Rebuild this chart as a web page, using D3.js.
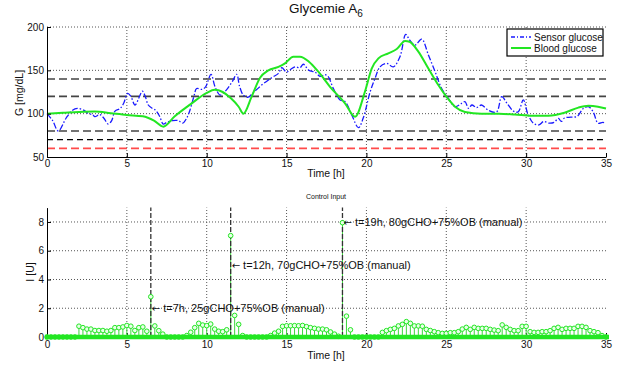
<!DOCTYPE html>
<html>
<head>
<meta charset="utf-8">
<script src="https://cdn.jsdelivr.net/npm/d3@7"></script>
<style>
  body { margin: 0; background: #fff; }
  text { font-family: "Liberation Sans", Arial, sans-serif; fill: #111; }
</style>
</head>
<body>
<div id="main"></div>
<script>

// sensor glucose (blue dash-dot)
var sensorT = [0,0.35,0.71,1.2,1.6,1.9,2.3,2.6,2.85,3.0,3.3,3.55,3.84,4.05,4.26,4.58,4.8,5.05,5.25,5.51,5.75,5.97,6.15,6.34,6.6,6.8,7.05,7.28,7.5,7.85,8.22,8.5,8.75,8.95,9.2,9.37,9.7,9.93,10.27,10.52,10.83,11.05,11.3,11.6,11.88,12.05,12.29,12.6,12.9,13.44,14.07,14.49,14.7,15.0,15.25,15.53,15.84,16.05,16.4,16.78,17.1,17.41,17.6,17.93,18.35,18.66,19.08,19.5,19.8,20.23,20.54,20.85,21.27,21.68,22.1,22.46,22.7,23.04,23.46,23.88,24.3,24.71,25.13,25.55,25.97,26.17,26.4,26.6,26.9,27.2,27.63,28.15,28.47,28.8,29.2,29.5,29.82,30.1,30.45,30.8,31.1,31.45,31.75,32.02,32.2,32.4,32.8,33.2,33.58,33.9,34.2,34.5,34.8,35]
var sensorG = [100,92,80,95,104,106,104,100,99,96.5,99,95,88,92,103,106,112,123.5,120,110,118,126,120,110,106,104,97,88,90,92,92,89,95,104,120,129,128,131,145.4,131,121.5,124,129,137,145.4,132,121.5,119,124,133,141.5,146.5,153,148,151,154,153,157,150,148,143,145,143,129,115.8,114,98.5,83.8,95,125,140.8,154,158,154,165.7,191.5,185,179,186,167.7,148.4,129,117.7,108,112,113.8,106,110,107,110,104,102,119.6,112,103,102,115.8,100,88.9,87,91,89,90,94.6,91,95,96,97,106,108,102,89,90,89]

// blood glucose (green)
var bloodT = [0,1,2,3,4,5,6,6.7,7.28,8,9,10,10.5,11,11.5,12.0,12.3,12.8,13.34,13.86,14.49,14.9,15.42,15.84,16.4,16.99,17.72,18.66,19.29,19.9,20.33,20.75,21.37,21.9,22.42,22.7,23.25,23.88,24.5,25.03,25.55,26.17,27.2,28.3,29.3,30.35,31.4,32.4,33.27,33.9,34.5,35]
var bloodG = [100,101,102,102.5,100.5,98.5,97,92,85,97,111,124,127.5,125,118,108,100,119,141.5,150,154,158,165.7,165.7,160,148.4,131,112,96.5,125,152,163.8,169.6,174.6,183.8,183,171.5,152,133,119,108,102,100,100,99,97.6,97.6,101,107,109,108,106]

// insulin every 15 min, t = 0 .. 35 h
var insulin = [
  0,0,0,0,0,0,0,0,
  .75,.65,.55,.55,.45,.45,.45,.4,
  .45,.65,.65,.7,.8,.75,.45,.65,
  .7,.4,2.8,.77,.44,.2,0,0,
  0,0,0,.1,.33,.65,.95,.83,
  .79,.9,.55,.4,.37,.5,7.05,1.5,
  .88,.1,0,0,0,0,0,0,
  .1,.27,.4,.74,.78,.78,.79,.78,
  .8,.72,.65,.6,.55,.55,.5,.35,
  .2,.05,7.95,1.45,.5,0,0,0,
  0,0,0,0,.32,.44,.53,.6,
  .77,.88,1.07,.95,.77,.77,.75,.53,
  .45,.37,.3,.25,.25,.3,.3,.37,
  .55,.67,.53,.67,.6,.6,.6,.53,
  .48,.44,.84,.67,.53,.44,.44,.74,
  .74,.37,.32,.32,.37,.37,.44,.6,
  .67,.53,.6,.6,.6,.74,.74,.67,
  .44,.37,.3,.1,0]
var insulinStep = 0.25

// glucose thresholds
var limits = [140, 120, 80, 70, 60]
var limitKind = ["grey", "grey", "grey", "black", "red"]

// boluses
var bolusT = [6.5, 11.5, 18.5]
var bolusY = [2, 5, 8]
var bolusText = ["t=7h, 25gCHO+75%OB (manual)", "t=12h, 70gCHO+75%OB (manual)", "t=19h, 80gCHO+75%OB (manual)"]

var xTicks = [0,5,10,15,20,25,30,35]
var gTicks = [50,100,150,200]
var iTicks = [0,2,4,6,8]

var W = 626, H = 371
var left = 47, right = 606

var svg = d3.select("#main")
	.append("svg")
	.attr("width", W)
	.attr("height", H)

var x = d3.scaleLinear().domain([0, 35]).range([left, right])
var yG = d3.scaleLinear().domain([50, 200]).range([157, 27])
var yI = d3.scaleLinear().domain([0, 9]).range([337, 207.6])

var green = "#22e622"

// ---------- top panel
var topG = svg.append("g")

topG.selectAll(".vgrid")
	.data(xTicks.slice(1, -1))
	.enter().append("line")
	.attr("x1", x).attr("x2", x)
	.attr("y1", yG(50)).attr("y2", yG(200))
	.attr("stroke", "#555").attr("stroke-dasharray", "1,2")

topG.selectAll(".hgrid")
	.data(gTicks.slice(1))
	.enter().append("line")
	.attr("x1", left).attr("x2", right)
	.attr("y1", yG).attr("y2", yG)
	.attr("stroke", "#555").attr("stroke-dasharray", "1,2")

topG.selectAll(".limit")
	.data(limits)
	.enter().append("line")
	.attr("x1", left).attr("x2", right)
	.attr("y1", yG).attr("y2", yG)
	.attr("stroke", function(d, i) { return limitKind[i] == "red" ? "#ff4a4a" : (limitKind[i] == "black" ? "#000" : "#444") })
	.attr("stroke-width", function(d, i) { return limitKind[i] == "black" ? 1.3 : 1.6 })
	.attr("stroke-dasharray", function(d, i) { return limitKind[i] == "black" ? "6,4" : "8,4" })

var sensorLine = d3.line()
	.x(function(d, i) { return x(sensorT[i]) })
	.y(function(d) { return yG(d) })
	.curve(d3.curveCatmullRom)

topG.append("path")
	.attr("d", sensorLine(sensorG))
	.attr("fill", "none")
	.attr("stroke", "#1a1aff")
	.attr("stroke-width", 1.3)
	.attr("stroke-dasharray", "6,2,1.5,2")

var bloodLine = d3.line()
	.x(function(d, i) { return x(bloodT[i]) })
	.y(function(d) { return yG(d) })
	.curve(d3.curveMonotoneX)

topG.append("path")
	.attr("d", bloodLine(bloodG))
	.attr("fill", "none")
	.attr("stroke", green)
	.attr("stroke-width", 2)

topG.append("g")
	.attr("transform", "translate(0," + yG(50) + ")")
	.call(d3.axisBottom(x).tickValues(xTicks).tickSizeInner(-4).tickSizeOuter(0).tickPadding(3))
topG.append("g")
	.attr("transform", "translate(" + left + ",0)")
	.call(d3.axisLeft(yG).tickValues(gTicks).tickSizeInner(-4).tickSizeOuter(0).tickPadding(3))

topG.append("text")
	.attr("x", 326).attr("y", 177)
	.attr("text-anchor", "middle")
	.style("font-size", "10.5px")
	.text("Time [h]")

topG.append("text")
	.attr("transform", "translate(23,93) rotate(-90)")
	.attr("text-anchor", "middle")
	.style("font-size", "10.5px")
	.text("G [mg/dL]")

var title = topG.append("text")
	.attr("x", 326).attr("y", 13)
	.attr("text-anchor", "middle")
	.style("font-size", "13.5px")
title.append("tspan").text("Glycemie A")
title.append("tspan").attr("dy", 4).style("font-size", "10px").text("6")

// legend
var legend = topG.append("g").attr("transform", "translate(507,29)")
legend.append("rect")
	.attr("width", 96).attr("height", 27)
	.attr("fill", "#fff").attr("stroke", "#000").attr("stroke-width", 1.2)
var legItems = [
	{ name: "Sensor glucose", color: "#1a1aff", dash: "4,2,1,2", w: 1.3 },
	{ name: "Blood glucose", color: green, dash: null, w: 2 }
]
legItems.forEach(function(d, i) {
	legend.append("line")
		.attr("x1", 4).attr("x2", 24)
		.attr("y1", 8 + i * 11).attr("y2", 8 + i * 11)
		.attr("stroke", d.color).attr("stroke-width", d.w)
		.attr("stroke-dasharray", d.dash)
	legend.append("text")
		.attr("x", 27).attr("y", 11.5 + i * 11)
		.style("font-size", "10px")
		.text(d.name)
})

// ---------- bottom panel
var bot = svg.append("g")

bot.selectAll(".vgrid")
	.data(xTicks.slice(1, -1))
	.enter().append("line")
	.attr("x1", x).attr("x2", x)
	.attr("y1", yI(0)).attr("y2", yI(9))
	.attr("stroke", "#555").attr("stroke-dasharray", "1,2")

bot.selectAll(".hgrid")
	.data(iTicks.slice(1))
	.enter().append("line")
	.attr("x1", left).attr("x2", right)
	.attr("y1", yI).attr("y2", yI)
	.attr("stroke", "#555").attr("stroke-dasharray", "1,2")

bot.append("g")
	.attr("transform", "translate(0," + yI(0) + ")")
	.call(d3.axisBottom(x).tickValues(xTicks).tickSizeInner(-4).tickSizeOuter(0).tickPadding(4))
bot.append("g")
	.attr("transform", "translate(" + left + ",0)")
	.call(d3.axisLeft(yI).tickValues(iTicks).tickSizeInner(-4).tickSizeOuter(0).tickPadding(3))

// stems
bot.selectAll(".stem")
	.data(insulin)
	.enter().append("line")
	.attr("x1", function(d, i) { return x(i * insulinStep) })
	.attr("x2", function(d, i) { return x(i * insulinStep) })
	.attr("y1", yI(0))
	.attr("y2", function(d) { return yI(d) })
	.attr("stroke", "#3cd63c")
	.attr("stroke-width", 1)

bot.selectAll(".bolus")
	.data(bolusT)
	.enter().append("line")
	.attr("x1", x).attr("x2", x)
	.attr("y1", yI(0)).attr("y2", yI(9))
	.attr("stroke", "#333").attr("stroke-width", 1.3)
	.attr("stroke-dasharray", "5,2")

bot.selectAll(".dot")
	.data(insulin)
	.enter().append("circle")
	.attr("cx", function(d, i) { return x(i * insulinStep) })
	.attr("cy", function(d) { return yI(d) })
	.attr("r", 2.3)
	.attr("fill", "#e8ffe8")
	.attr("stroke", green)
	.attr("stroke-width", 1)

// zero-valued markers merge into one thick band
bot.append("line")
	.attr("x1", left - 2).attr("x2", right + 3)
	.attr("y1", yI(0)).attr("y2", yI(0))
	.attr("stroke", green).attr("stroke-width", 4.5)

var notes = bot.selectAll(".note")
	.data(bolusT)
	.enter().append("text")
	.attr("x", function(d) { return x(d) + 1 })
	.attr("y", function(d, i) { return yI(bolusY[i]) + 4 })
	.style("font-size", "11px")
notes.append("tspan")
	.style("font-family", "'DejaVu Sans'")
	.style("font-size", "10px")
	.text("\u2190")
notes.append("tspan")
	.text(function(d, i) { return " " + bolusText[i] })

bot.append("text")
	.attr("x", 326).attr("y", 359)
	.attr("text-anchor", "middle")
	.style("font-size", "10.5px")
	.text("Time [h]")

bot.append("text")
	.attr("transform", "translate(34,272) rotate(-90)")
	.attr("text-anchor", "middle")
	.style("font-size", "10.5px")
	.text("I [U]")

bot.append("text")
	.attr("x", 326).attr("y", 199)
	.attr("text-anchor", "middle")
	.style("font-size", "7px")
	.text("Control Input")

svg.selectAll(".tick text").style("font-size", "10px").attr("fill", "#111")
svg.selectAll(".domain, .tick line").attr("stroke", "#000")

</script>
</body>
</html>
